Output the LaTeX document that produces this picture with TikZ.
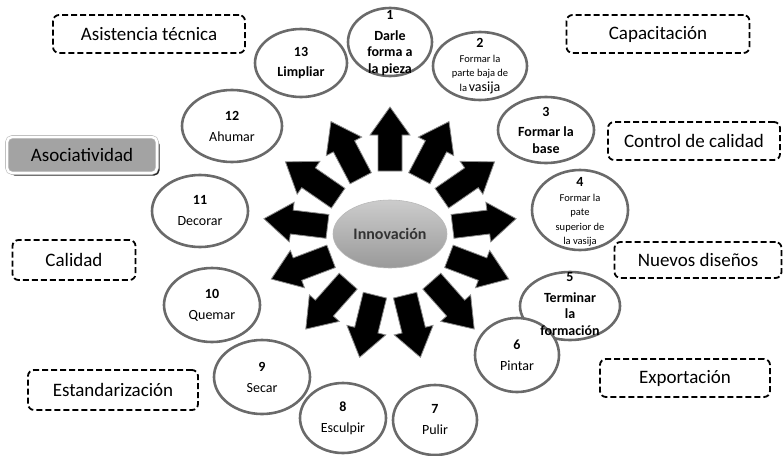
\documentclass[tikz,border=0pt]{standalone}
\usepackage{fontspec}
\setmainfont{Carlito}
\usetikzlibrary{shapes.geometric,shadows}

\definecolor{rimgray}{HTML}{6A6A6A}
\definecolor{assocgray}{HTML}{A3A3A3}
\tikzset{
  rim/.style={ellipse,draw=rimgray,line width=2.6pt,fill=white,inner sep=0pt},
  stage/.style={align=center,inner sep=0pt,font=\fontsize{14}{17}\selectfont},
  stagebold/.style={stage,font=\fontsize{14}{16.5}\selectfont\bfseries},
  stagesmall/.style={stage,font=\fontsize{10.5}{14.5}\selectfont},
  factor/.style={draw=black,line width=1.8pt,dash pattern=on 6pt off 3pt,
    rounded corners=6pt,inner sep=0pt,font=\fontsize{19}{22}\selectfont},
  blockarrow/.style={fill=black,draw=black!45,line width=0.8pt}
}

\begin{document}
\begin{tikzpicture}[x=1pt,y=-1pt]
  \useasboundingbox (0,0) rectangle (783,455);
  \coordinate (hub) at (390,234);
  \foreach \k in {0,...,12}{%
    \pgfmathsetmacro\ang{90-\k*360/13}
    \filldraw[blockarrow,shift={(hub)},rotate=\ang]
      (63,-12) -- (99,-12) -- (99,-20) -- (127,0) -- (99,20) -- (99,12) -- (63,12) -- cycle;
  }
  \node[ellipse,minimum width=114pt,minimum height=68pt,inner sep=0pt,
    top color=gray!40,bottom color=gray!80,draw=gray!55,line width=0.6pt,
    text=black!80,font=\fontsize{16}{18}\selectfont\bfseries] (inno) at (hub) {Innovación};

  % rims of the thirteen steps
  \foreach \n/\x/\y/\w/\h in {1/390/42/84/68, 2/480/66/94/68, 3/546/130/96/66,
      4/580/210/96/80, 5/570/306/100/68, 6/517/355/84/74, 7/435/420/84/70,
      8/343/418/86/70, 9/262/377/96/74, 10/212/305/96/74, 11/200/211/96/72,
      12/232/126/100/72, 13/301/63/92/68}
    \node[rim,minimum width=\w pt,minimum height=\h pt] (e\n) at (\x,\y) {};

  \node[stagebold] (s1) at ([yshift=-1pt]e1.center) {1\\[4pt] Darle\\ forma a\\ la pieza};
  \node[stagesmall] (s2) at (e2.center)
    {{\fontsize{14}{14}\selectfont\bfseries 2}\\ Formar la\\ parte baja de\\ la\,{\fontsize{14}{14}\selectfont vasija}};
  \node[stagebold] (s3) at (e3.center) {3\\[4pt] Formar la\\ base};
  \node[stagesmall] (s4) at ([yshift=-2pt]e4.center)
    {{\fontsize{14}{14}\selectfont\bfseries 4}\\ Formar la\\ pate\\ superior de\\ la vasija};
  \node[stagebold] (s5) at ([yshift=2pt]e5.center) {5\\[4pt] Terminar\\ la\\ formación};
  \node[stage] (s6) at (e6.center) {\textbf{6}\\[4pt] Pintar};
  \node[stage] (s7) at (e7.center) {\textbf{7}\\[4pt] Pulir};
  \node[stage] (s8) at (e8.center) {\textbf{8}\\[4pt] Esculpir};
  \node[stage] (s9) at (e9.center) {\textbf{9}\\[4pt] Secar};
  \node[stage] (s10) at (e10.center) {\textbf{10}\\[4pt] Quemar};
  \node[stage] (s11) at (e11.center) {\textbf{11}\\[4pt] Decorar};
  \node[stage] (s12) at (e12.center) {\textbf{12}\\[4pt] Ahumar};
  \node[stagebold] (s13) at (e13.center) {13\\[4pt] Limpliar};

  \node[factor,minimum width=192pt,minimum height=38pt] (asis) at (149,34) {Asistencia técnica};
  \node[factor,minimum width=183pt,minimum height=38pt] (capa) at (658,34) {Capacitación};
  \node[factor,minimum width=172pt,minimum height=38pt] (ctrl) at (694,141) {Control de calidad};
  \node[factor,minimum width=167pt,minimum height=36pt] (nuev) at (698,260) {Nuevos diseños};
  \node[factor,minimum width=170pt,minimum height=38pt] (expo) at (685,378) {Exportación};
  \node[factor,minimum width=123pt,minimum height=40pt] (cali) at (74,260) {Calidad};
  \node[factor,minimum width=170pt,minimum height=40pt] (estd) at (113,390) {Estandarización};
  \node[rounded corners=5pt,fill=assocgray,draw=gray!55,double=white,double distance=2.4pt,
    line width=0.6pt,minimum width=150pt,minimum height=36pt,inner sep=0pt,
    font=\fontsize{19}{22}\selectfont,
    drop shadow={shadow xshift=2.5pt,shadow yshift=-2.5pt,fill=black!85,opacity=1}]
    (asoc) at (82,155) {Asociatividad};
\end{tikzpicture}
\end{document}
